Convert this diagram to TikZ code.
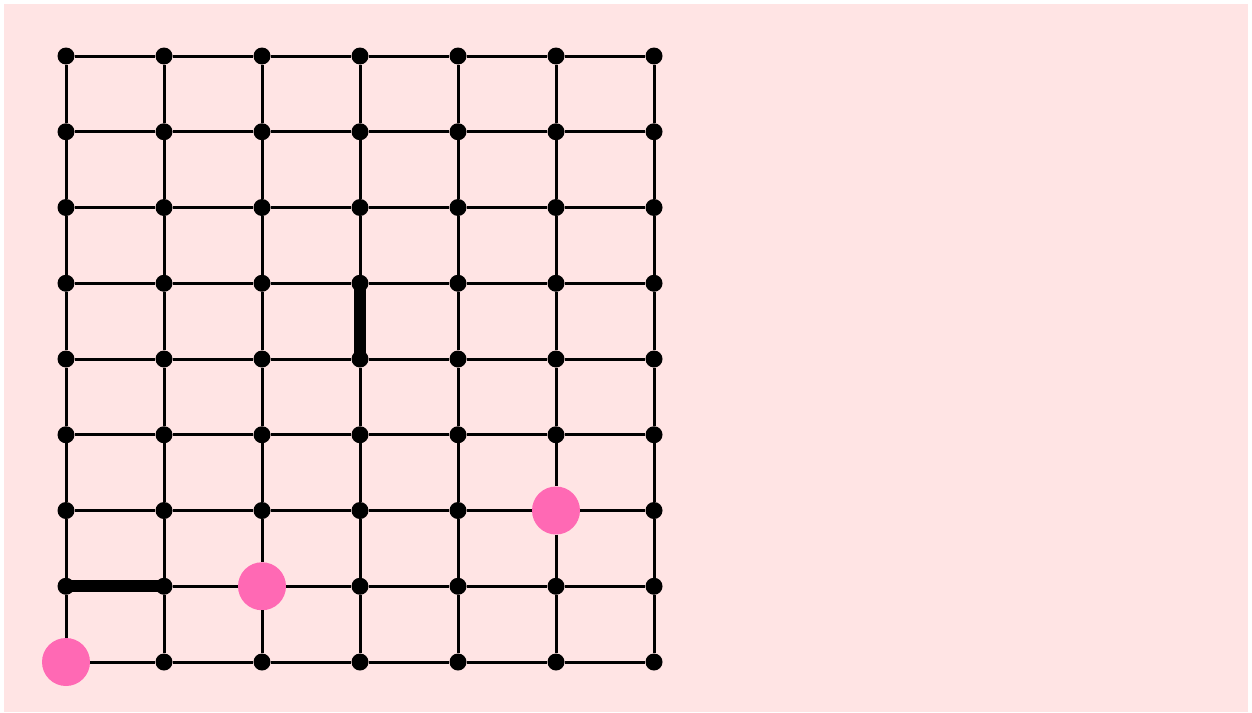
\documentclass[tikz,border=0pt]{standalone}
\definecolor{bgpink}{HTML}{FFE4E4}
\definecolor{hot}{HTML}{FF69B4}
\begin{document}
\begin{tikzpicture}[x=1pt,y=-1pt,
  dot/.style={circle,fill=black,inner sep=0pt,minimum size=17pt},
  token/.style={circle,fill=hot,inner sep=0pt,minimum size=48pt},
  edge/.style={line width=3pt},
  heavy/.style={line width=12pt,line cap=round}]
\useasboundingbox (0,0) rectangle (1252,712);
\fill[bgpink] (4,4) rectangle (1248,712);
% nodes
\foreach \i in {0,...,6}{
  \foreach \j in {0,...,8}{
    \pgfmathsetmacro{\xx}{66+98*\i}
    \pgfmathsetmacro{\yy}{56+75.75*\j}
    \ifnum\i=0 \ifnum\j=8 \node[token] (n-\i-\j) at (\xx,\yy) {}; \else \node[dot] (n-\i-\j) at (\xx,\yy) {}; \fi
    \else\ifnum\i=2 \ifnum\j=7 \node[token] (n-\i-\j) at (\xx,\yy) {}; \else \node[dot] (n-\i-\j) at (\xx,\yy) {}; \fi
    \else\ifnum\i=5 \ifnum\j=6 \node[token] (n-\i-\j) at (\xx,\yy) {}; \else \node[dot] (n-\i-\j) at (\xx,\yy) {}; \fi
    \else \node[dot] (n-\i-\j) at (\xx,\yy) {};
    \fi\fi\fi
  }
}
% horizontal edges
\foreach \i [evaluate=\i as \k using int(\i+1)] in {0,...,5}{
  \foreach \j in {0,...,8}{
    \draw[edge] (n-\i-\j) -- (n-\k-\j);
  }
}
% vertical edges
\foreach \i in {0,...,6}{
  \foreach \j [evaluate=\j as \k using int(\j+1)] in {0,...,7}{
    \draw[edge] (n-\i-\j) -- (n-\i-\k);
  }
}
% heavy edges
\draw[heavy] (n-0-7.center) -- (n-1-7.center);
\draw[heavy] (n-3-3.center) -- (n-3-4.center);
\end{tikzpicture}
\end{document}
